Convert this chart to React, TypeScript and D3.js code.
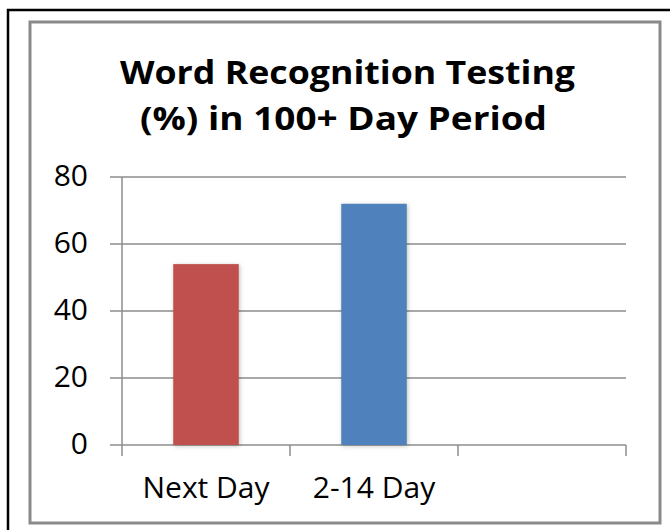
import React, { useEffect, useRef } from "react";
import * as d3 from "d3";

const categories = ["Next Day", "2-14 Day", ""];
const values = [54, 72, null];
const barColors = ["#C0504D", "#4F81BD", "#9BBB59"];
const yTicks = [0, 20, 40, 60, 80];
const titleLines = ["Word Recognition Testing", "(%) in 100+ Day Period"];
const titleWidths = [455, 407];

const App: React.FC = () => {
  const ref = useRef<SVGSVGElement | null>(null);

  useEffect(() => {
    const width = 670;
    const height = 530;
    const margin = { top: 177, right: 44, bottom: 85, left: 122 };
    const w = width - margin.left - margin.right;
    const h = height - margin.top - margin.bottom;
    const font = "Open Sans, Noto Sans, sans-serif";

    const root = d3.select(ref.current);
    root.selectAll("*").remove();
    root.attr("width", width).attr("height", height);

    // outer frame (runs off the right and bottom edges)
    root
      .append("rect")
      .attr("x", 8)
      .attr("y", 10)
      .attr("width", 700)
      .attr("height", 560)
      .attr("fill", "#fff")
      .attr("stroke", "#000")
      .attr("stroke-width", 2.5);
    // chart area frame
    root
      .append("rect")
      .attr("x", 30)
      .attr("y", 22)
      .attr("width", 630)
      .attr("height", 501)
      .attr("fill", "#fff")
      .attr("stroke", "#8a8a8a")
      .attr("stroke-width", 3);

    // title
    root
      .selectAll(".title")
      .data(titleLines)
      .enter()
      .append("text")
      .attr("x", (_d, i) => (i === 0 ? 347.5 : 343.5))
      .attr("y", (_d, i) => 84 + i * 46)
      .attr("text-anchor", "middle")
      .attr("textLength", (_d, i) => titleWidths[i])
      .attr("lengthAdjust", "spacingAndGlyphs")
      .style("font-family", font)
      .style("font-weight", "bold")
      .style("font-size", "33px")
      .attr("fill", "#000")
      .text((d) => d);

    const svg = root
      .append("g")
      .attr("transform", `translate(${margin.left},${margin.top})`);

    const x = d3.scaleBand().domain(categories.map((c, i) => c + i)).range([0, w]);
    const y = d3.scaleLinear().domain([0, 80]).range([h, 0]);

    // gridlines
    svg
      .selectAll(".grid")
      .data(yTicks)
      .enter()
      .append("line")
      .attr("x1", -12)
      .attr("x2", w)
      .attr("y1", (d) => y(d))
      .attr("y2", (d) => y(d))
      .attr("stroke", "#8c8c8c")
      .attr("stroke-width", 1.5);

    // y axis line
    svg
      .append("line")
      .attr("x1", 0)
      .attr("x2", 0)
      .attr("y1", 0)
      .attr("y2", h)
      .attr("stroke", "#8c8c8c")
      .attr("stroke-width", 1.5);

    // y tick labels
    svg
      .selectAll(".ylab")
      .data(yTicks)
      .enter()
      .append("text")
      .attr("x", -34)
      .attr("y", (d) => y(d) + 9)
      .attr("text-anchor", "end")
      .style("font-family", font)
      .style("font-size", "30px")
      .attr("fill", "#000")
      .text((d) => d);

    // x ticks
    const tickXs = [0, ...categories.map((c, i) => (x(c + i) ?? 0) + x.bandwidth())];
    svg
      .selectAll(".xtick")
      .data(tickXs)
      .enter()
      .append("line")
      .attr("x1", (d) => d)
      .attr("x2", (d) => d)
      .attr("y1", h)
      .attr("y2", h + 11)
      .attr("stroke", "#8c8c8c")
      .attr("stroke-width", 1.5);

    // bars
    const barW = x.bandwidth() * 0.39;
    svg
      .selectAll(".bar")
      .data(values.map((v, i) => ({ v, i })).filter((d) => d.v !== null))
      .enter()
      .append("rect")
      .attr("x", (d) => (x(categories[d.i] + d.i) ?? 0) + (x.bandwidth() - barW) / 2)
      .attr("y", (d) => y(d.v as number))
      .attr("width", barW)
      .attr("height", (d) => h - y(d.v as number))
      .attr("fill", (d) => barColors[d.i])
      .style("filter", "drop-shadow(1px 1px 2px rgba(0,0,0,0.25))");

    // x labels
    svg
      .selectAll(".xlab")
      .data(categories)
      .enter()
      .append("text")
      .attr("x", (d, i) => (x(d + i) ?? 0) + x.bandwidth() / 2)
      .attr("y", h + 53)
      .attr("text-anchor", "middle")
      .style("font-family", font)
      .style("font-size", "30px")
      .attr("fill", "#000")
      .text((d) => d);
  }, []);

  return <svg ref={ref} style={{ position: "absolute", left: 0, top: 0 }}></svg>;
};

export default App;
